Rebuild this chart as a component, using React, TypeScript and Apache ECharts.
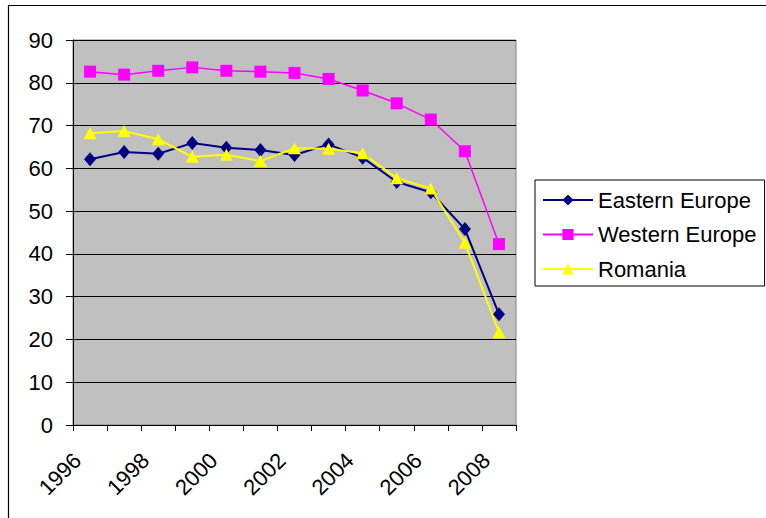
import React, { useEffect, useRef } from "react";
import * as echarts from "echarts";

const years = ["1996", "1997", "1998", "1999", "2000", "2001", "2002", "2003", "2004", "2005", "2006", "2007", "2008"];
const easternEurope = [62.1, 63.8, 63.4, 65.9, 64.8, 64.3, 63.1, 65.6, 62.5, 56.8, 54.4, 45.8, 25.9];
const westernEurope = [82.6, 81.9, 82.8, 83.6, 82.8, 82.6, 82.3, 80.9, 78.2, 75.2, 71.4, 64.0, 42.3];
const romania = [68.2, 68.7, 66.8, 62.7, 63.2, 61.7, 64.7, 64.6, 63.5, 57.7, 55.3, 42.6, 21.7];

const FONT = 'Arial, "Liberation Sans", sans-serif';

export default function App() {
  const ref = useRef<HTMLDivElement>(null);
  useEffect(() => {
    if (!ref.current) return;
    const chart = echarts.init(ref.current, null, { renderer: "svg" });
    chart.setOption({
      animation: false,
      backgroundColor: "#ffffff",
      textStyle: { fontFamily: FONT },
      grid: {
        left: 73,
        top: 40,
        right: 250,
        bottom: 93,
        show: true,
        backgroundColor: "#c0c0c0",
        borderColor: "#808080",
        borderWidth: 1,
      },
      graphic: [
        { type: "line", shape: { x1: 8, y1: 5.5, x2: 766, y2: 5.5 }, style: { stroke: "#000", lineWidth: 1.2 } },
        { type: "line", shape: { x1: 8.5, y1: 5, x2: 8.5, y2: 518 }, style: { stroke: "#000", lineWidth: 1.2 } },
      ],
      legend: {
        orient: "vertical",
        left: 535,
        top: 180,
        padding: [9, 8, 6, 7],
        itemGap: 12.5,
        itemWidth: 50,
        itemHeight: 14,
        borderColor: "#000",
        borderWidth: 1,
        textStyle: { fontFamily: FONT, fontSize: 22, color: "#000", lineHeight: 20 },
        data: ["Eastern Europe", "Western Europe", "Romania"],
      },
      xAxis: {
        type: "category",
        data: years,
        boundaryGap: true,
        axisLine: { lineStyle: { color: "#000", width: 1 } },
        axisTick: { show: true, interval: 0, length: 6, lineStyle: { color: "#000" } },
        axisLabel: {
          interval: 1,
          rotate: 45,
          margin: 19,
          padding: [0, 18, 0, 0],
          fontFamily: FONT,
          fontSize: 22,
          color: "#000",
        },
        splitLine: { show: false },
      },
      yAxis: {
        type: "value",
        min: 0,
        max: 90,
        interval: 10,
        axisLine: { show: true, lineStyle: { color: "#000", width: 1 } },
        axisTick: { show: true, length: 7, lineStyle: { color: "#000" } },
        axisLabel: { margin: 20, fontFamily: FONT, fontSize: 22, color: "#000" },
        splitLine: { show: true, lineStyle: { color: "#000", width: 1 } },
      },
      series: [
        {
          name: "Eastern Europe",
          type: "line",
          data: easternEurope,
          symbol: "diamond",
          symbolSize: [12, 14],
          color: "#000080",
          lineStyle: { color: "#000080", width: 2 },
          itemStyle: { color: "#000080" },
        },
        {
          name: "Western Europe",
          type: "line",
          data: westernEurope,
          symbol: "rect",
          symbolSize: 12,
          color: "#ff00ff",
          lineStyle: { color: "#ff00ff", width: 1.5 },
          itemStyle: { color: "#ff00ff" },
        },
        {
          name: "Romania",
          type: "line",
          data: romania,
          symbol: "triangle",
          symbolSize: [13, 12],
          color: "#ffff00",
          lineStyle: { color: "#ffff00", width: 2 },
          itemStyle: { color: "#ffff00" },
        },
      ],
    });
    return () => chart.dispose();
  }, []);
  return <div ref={ref} style={{ position: "absolute", left: 0, top: 0, width: 766, height: 518 }} />;
}
